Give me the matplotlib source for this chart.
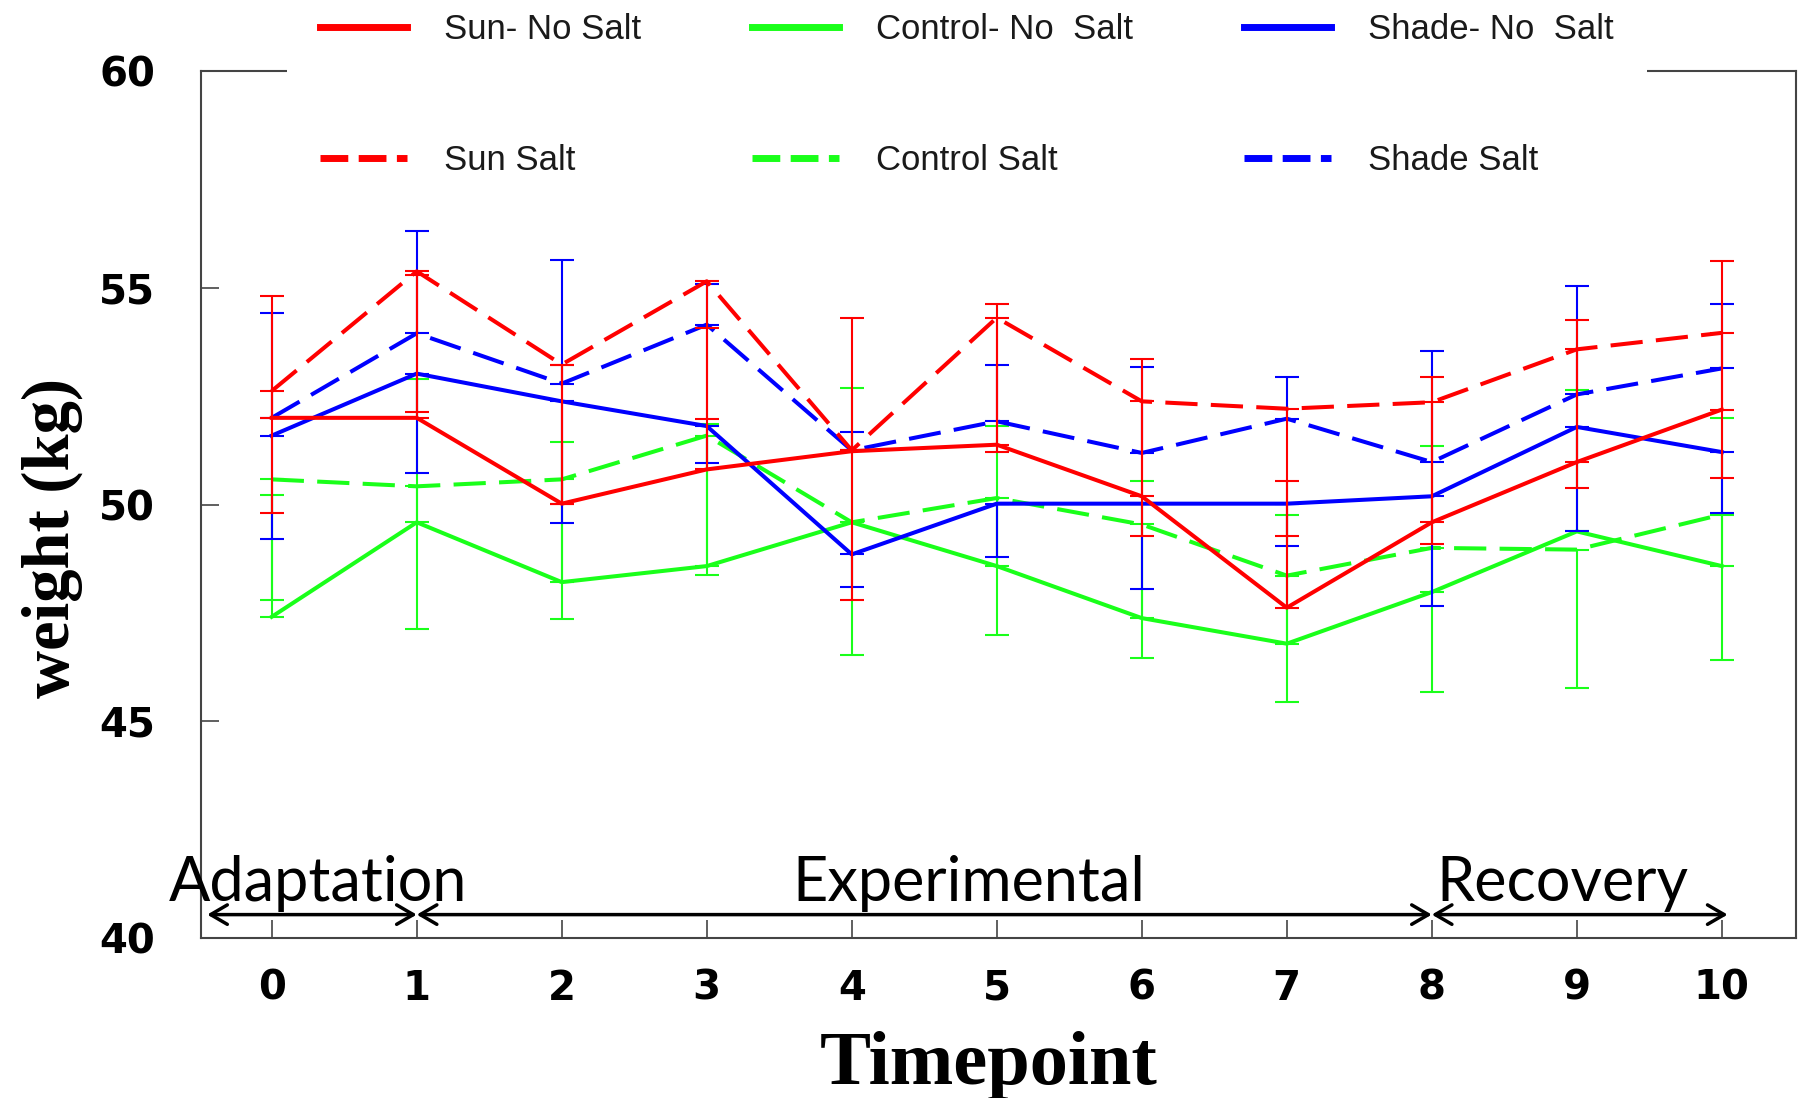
import matplotlib
matplotlib.use("Agg")
import matplotlib.pyplot as plt
from matplotlib import font_manager
from matplotlib.lines import Line2D

# Body weight per timepoint (kg)
timepoints = [0, 1, 2, 3, 4, 5, 6, 7, 8, 9, 10]

sun_no_salt = [52.0, 52.0, 50.02, 50.81, 51.23, 51.38, 50.19, 47.62, 49.59, 50.98, 52.19]
sun_salt = [52.62, 55.38, 53.23, 55.15, 51.25, 54.31, 52.38, 52.21, 52.36, 53.58, 53.96]
control_no_salt = [47.41, 49.59, 48.21, 48.58, 49.59, 48.58, 47.38, 46.79, 47.98, 49.38, 48.58]
control_salt = [50.58, 50.42, 50.58, 51.59, 49.59, 50.15, 49.54, 48.36, 49.0, 48.96, 49.77]
shade_no_salt = [51.59, 53.02, 52.38, 51.81, 48.85, 50.02, 50.02, 50.02, 50.19, 51.79, 51.21]
shade_salt = [52.0, 53.95, 52.79, 54.15, 51.25, 51.92, 51.19, 51.98, 50.98, 52.54, 53.14]

# SE, drawn one-sided (upper or lower bar per group)
sun_no_salt_se = [2.82, 3.3, 3.21, 3.27, 3.08, 3.24, 3.16, 2.92, 3.36, 3.27, 3.43]
sun_salt_se = [2.81, 3.24, 3.21, 3.17, 3.46, 3.10, 3.11, 2.94, 3.28, 3.20, 3.34]
control_no_salt_se = [2.80, 3.31, 3.23, 3.28, 3.10, 3.24, 3.16, 2.96, 3.37, 3.26, 3.42]
control_salt_se = [2.79, 3.3, 3.21, 3.22, 3.07, 3.17, 3.08, 2.92, 3.33, 3.19, 3.36]
shade_no_salt_se = [2.38, 2.3, 2.8, 0.85, 0.75, 1.24, 1.97, 0.97, 2.54, 2.41, 1.40]
shade_salt_se = [2.42, 2.36, 2.85, 0.93, 0.43, 1.31, 1.98, 0.97, 2.56, 2.51, 1.49]

# phases along the time axis
phase_names = ["Adaptation", "Experimental", "Recovery"]
phase_bounds = [-0.445, 1, 8, 10.04]
phase_label_x = [-0.708, 4.81, 8.90]
phase_label_ha = ["left", "center", "center"]

RED, GREEN, BLUE = "#ff0000", "#1aff1a", "#0000ff"
DASH = (0, (8, 3.3))

# (label, means, se, bar direction, colour, linestyle); drawn in this order
series = [
    ("Control- No  Salt", control_no_salt, control_no_salt_se, "up", GREEN, "-"),
    ("Control Salt", control_salt, control_salt_se, "down", GREEN, DASH),
    ("Shade- No  Salt", shade_no_salt, shade_no_salt_se, "down", BLUE, "-"),
    ("Shade Salt", shade_salt, shade_salt_se, "up", BLUE, DASH),
    ("Sun- No Salt", sun_no_salt, sun_no_salt_se, "up", RED, "-"),
    ("Sun Salt", sun_salt, sun_salt_se, "down", RED, DASH),
]

installed = {f.name for f in font_manager.fontManager.ttflist}
if "Liberation Sans Narrow" in installed:
    legend_font, legend_size = "Liberation Sans Narrow", 29
else:
    legend_font, legend_size = "Liberation Sans", 25
fs_px = legend_size * 100 / 72

fig = plt.figure(figsize=(18.04, 10.98), dpi=100)
ax = fig.add_axes([0.1114, 0.1457, 0.8842, 0.7896])

for label, means, se, direction, color, ls in series:
    zeros = [0] * len(se)
    yerr = [zeros, se] if direction == "up" else [se, zeros]
    ax.plot(timepoints, means, color=color, linestyle=ls, lw=2.9)
    ax.errorbar(timepoints, means, yerr=yerr, fmt="none", ecolor=color,
                elinewidth=1.5, capsize=8.3, capthick=1.5)

# phase arrows and names
for i, name in enumerate(phase_names):
    ax.annotate("", xy=(phase_bounds[i + 1], 40.54), xytext=(phase_bounds[i], 40.54),
                arrowprops=dict(arrowstyle="<->,head_length=0.6,head_width=0.35",
                                color="black", lw=2.5, mutation_scale=20,
                                shrinkA=0, shrinkB=0))
    ax.text(phase_label_x[i], 40.85, name, ha=phase_label_ha[i], va="baseline",
            fontsize=44, family="Lato", color="black")

ax.set_xlim(-0.488, 10.512)
ax.set_ylim(40, 60)
ax.set_xticks(timepoints)
ax.set_yticks([40, 45, 50, 55, 60])

for side in ax.spines.values():
    side.set_color("#444444")
    side.set_linewidth(1.5)

ax.tick_params(axis="both", direction="in", length=13, width=1.2, color="#444444",
               labelsize=29)
ax.tick_params(axis="y", pad=33)
ax.tick_params(axis="x", pad=22)
for lbl in ax.get_xticklabels() + ax.get_yticklabels():
    lbl.set_fontweight("bold")
    lbl.set_family("DejaVu Sans")

ax.set_xlabel("Timepoint", family="Liberation Serif", fontweight="bold",
              fontsize=55, va="center")
ax.xaxis.set_label_coords(0.494, -0.147)
ax.set_ylabel("weight (kg)", family="Liberation Serif", fontweight="bold",
              fontsize=48, va="center")
ax.yaxis.set_label_coords(-0.0934, 0.461)

# legend: thick handles, white box over the top spine
handles, labels = [], []
for order in [4, 5, 0, 1, 2, 3]:
    label, _, _, _, color, ls = series[order]
    dash = (0, (4, 1.5)) if ls != "-" else "-"
    handles.append(Line2D([], [], color=color, linestyle=dash, lw=5))
    labels.append(label)

leg = fig.legend(handles, labels, loc="upper left", ncol=3,
                 bbox_to_anchor=(287 / 1804, 1 + 20 / 1098), borderaxespad=0,
                 prop={"family": legend_font, "size": legend_size},
                 frameon=True, facecolor="white", edgecolor="none", framealpha=1,
                 fancybox=False, borderpad=33 / fs_px,
                 handlelength=87 / fs_px, handletextpad=37 / fs_px,
                 columnspacing=111 / fs_px, labelspacing=(138 - 1.15 * fs_px) / fs_px)
for t in leg.get_texts():
    t.set_color("#1a1a1a")

fig.savefig("out.png", dpi=100)
